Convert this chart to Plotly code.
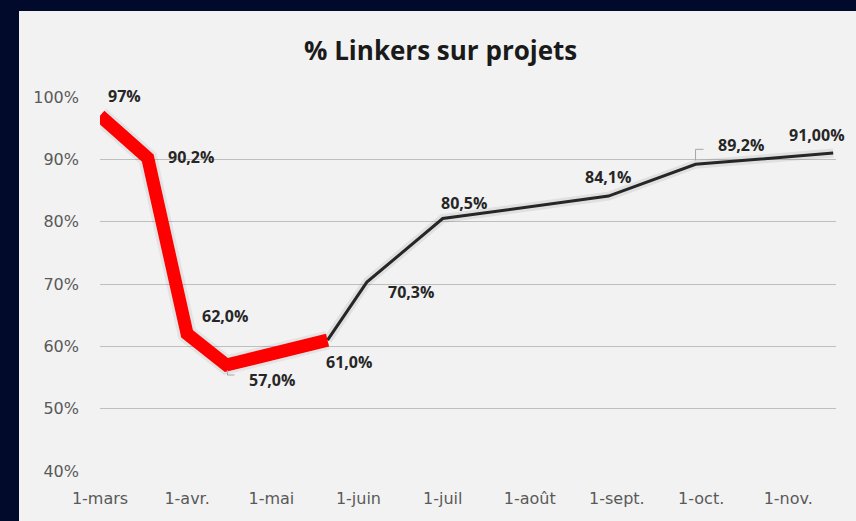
import plotly.graph_objects as go

# ---- data ----
dates = ["2021-03-01", "2021-03-18", "2021-04-01", "2021-04-15", "2021-05-21",
         "2021-06-04", "2021-07-01", "2021-08-29", "2021-09-29", "2021-11-17"]
values = [0.97, 0.902, 0.62, 0.57, 0.61, 0.703, 0.805, 0.841, 0.892, 0.91]
labels = ["97%", "90,2%", "62,0%", "57,0%", "61,0%", "70,3%", "80,5%", "84,1%", "89,2%", "91,00%"]
red_count = 5  # first points drawn in red

tick_dates = ["2021-03-01", "2021-04-01", "2021-05-01", "2021-06-01", "2021-07-01",
              "2021-08-01", "2021-09-01", "2021-10-01", "2021-11-01"]
tick_text = ["1-mars", "1-avr.", "1-mai", "1-juin", "1-juil", "1-août", "1-sept.", "1-oct.", "1-nov."]
y_ticks = [0.4, 0.5, 0.6, 0.7, 0.8, 0.9, 1.0]
y_text = ["40%", "50%", "60%", "70%", "80%", "90%", "100%"]

title = "% Linkers sur projets"

# label offsets in pixels (dx, dy with dy positive upward)
label_offsets = [(24, 20), (43, 1), (38, 18), (46, -15), (21, -22),
                 (44, -10), (21, 16), (0, 19), (45, 19), (-16, 18)]

NAVY = "#010a2b"
PANEL = "#f2f2f2"
FONT = "Open Sans"
TICKFONT = "DejaVu Sans"

fig = go.Figure()

# soft shadows
fig.add_trace(go.Scatter(x=dates[red_count - 1:], y=values[red_count - 1:], mode="lines",
                         line=dict(color="rgba(0,0,0,0.07)", width=9),
                         hoverinfo="skip", showlegend=False, cliponaxis=False))
fig.add_trace(go.Scatter(x=dates[:red_count], y=values[:red_count], mode="lines",
                         line=dict(color="rgba(0,0,0,0.06)", width=19),
                         hoverinfo="skip", showlegend=False, cliponaxis=False))

# black segment
fig.add_trace(go.Scatter(x=dates[red_count - 1:], y=values[red_count - 1:], mode="lines",
                         line=dict(color="#262626", width=3),
                         showlegend=False, cliponaxis=False))
# red segment
fig.add_trace(go.Scatter(x=dates[:red_count], y=values[:red_count], mode="lines",
                         line=dict(color="#ff0000", width=13),
                         showlegend=False, cliponaxis=False))

annotations = []
for d, v, t, (dx, dy) in zip(dates, values, labels, label_offsets):
    annotations.append(dict(x=d, y=v, xref="x", yref="y", text="<b>" + t + "</b>",
                            showarrow=False, xshift=dx, yshift=dy,
                            font=dict(family=FONT, size=16, color="#262626")))

shapes = [
    # panel background
    dict(type="rect", xref="paper", yref="paper", x0=(19 - 100) / 736, x1=1.05,
         y0=-0.2, y1=(471 - 11) / 374, fillcolor=PANEL, line=dict(width=0), layer="below"),
    # leader lines
    dict(type="path", xsizemode="pixel", ysizemode="pixel", xref="x", yref="y",
         xanchor=dates[3], yanchor=values[3], path="M 1 -5 L 1 -10 L 8 -10",
         line=dict(color="#a6a6a6", width=1)),
    dict(type="path", xsizemode="pixel", ysizemode="pixel", xref="x", yref="y",
         xanchor=dates[8], yanchor=values[8], path="M 0 4 L 0 15 L 8 15",
         line=dict(color="#a6a6a6", width=1)),
]

annotations.append(dict(text="<b>" + title + "</b>", xref="paper", yref="paper",
                        x=(440 - 100) / 736, y=(471 - 50) / 374, showarrow=False,
                        xanchor="center", yanchor="middle",
                        font=dict(family=FONT, size=26, color="#1a1a1a")))

fig.update_layout(
    width=856, height=521,
    margin=dict(l=100, r=20, t=97, b=50),
    paper_bgcolor=NAVY, plot_bgcolor=PANEL,
    shapes=shapes, annotations=annotations,
    xaxis=dict(type="date", range=["2021-03-01", "2021-11-18"], tickvals=tick_dates,
               ticktext=tick_text, showgrid=False, zeroline=False, showline=False,
               ticks="", ticklabelstandoff=16,
               tickfont=dict(family=TICKFONT, size=16, color="#595959")),
    yaxis=dict(range=[0.4, 1.0], tickvals=y_ticks, ticktext=y_text, showgrid=True,
               gridcolor="#bfbfbf", gridwidth=1, zeroline=False, showline=False,
               ticks="", ticklabelstandoff=20,
               tickfont=dict(family=TICKFONT, size=16, color="#595959")),
    showlegend=False,
)

fig.write_html("out.html", config={"displayModeBar": False},
               post_script="document.body.style.margin='0';document.body.style.background='#010a2b';")
